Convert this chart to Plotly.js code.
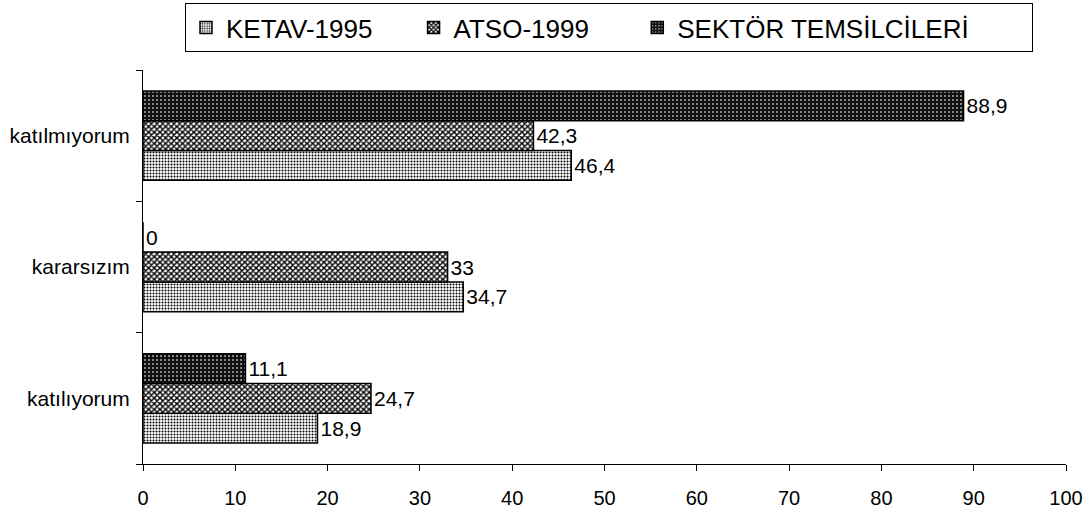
<!DOCTYPE html>
<html>
<head>
<meta charset="utf-8">
<script src="https://cdn.plot.ly/plotly-3.0.1.min.js"></script>
<style>html,body{margin:0;padding:0;background:#fff;}#chart{width:1087px;height:531px;}</style>
</head>
<body>
<div id="chart"></div>
<script>
const categories = ['katılıyorum', 'kararsızım', 'katılmıyorum'];
const seriesNames = ['KETAV-1995', 'ATSO-1999', 'SEKTÖR TEMSİLCİLERİ'];
const ketav = [18.9, 34.7, 46.4];
const atso = [24.7, 33, 42.3];
const sektor = [11.1, 0, 88.9];
const tickVals = [0, 10, 20, 30, 40, 50, 60, 70, 80, 90, 100];

const NB = '\u00a0';
const legendPad = [5, 6, 8];
const patterns = [
  {shape: '.', fgcolor: '#000', bgcolor: '#fff', solidity: 0.35, size: 3},
  {shape: 'x', fgcolor: '#000', bgcolor: '#fff', solidity: 0.6, size: 4},
  {shape: '.', fgcolor: '#aaa', bgcolor: '#111', solidity: 0.2, size: 4}
];
const values = [ketav, atso, sektor];
const traces = values.map((v, i) => ({
  type: 'bar',
  orientation: 'h',
  name: seriesNames[i] + NB.repeat(legendPad[i]),
  y: categories,
  x: v,
  text: v.map(n => String(n).replace('.', ',')),
  textposition: 'outside',
  textfont: {family: 'Liberation Sans, Arial, sans-serif', size: 21, color: '#000'},
  cliponaxis: false,
  marker: {
    color: '#fff',
    line: {color: '#000', width: 1.5},
    pattern: patterns[i]
  }
}));

const layout = {
  width: 1087, height: 531,
  margin: {l: 143, r: 21, t: 70, b: 67, autoexpand: false},
  paper_bgcolor: '#fff', plot_bgcolor: '#fff',
  barmode: 'group',
  bargap: 0.32,
  bargroupgap: 0,
  showlegend: true,
  font: {family: 'Liberation Sans, Arial, sans-serif', color: '#000'},
  legend: {
    orientation: 'h', traceorder: 'normal',
    x: 0.0455, xanchor: 'left', y: 1.17, yanchor: 'top',
    bordercolor: '#000', borderwidth: 1, bgcolor: '#fff',
    font: {size: 26, color: '#000'},
    itemwidth: 30
  },
  xaxis: {
    range: [0, 100], tickvals: tickVals, ticktext: tickVals.map(String),
    showgrid: false, zeroline: false, showline: true, linecolor: '#000', linewidth: 1,
    ticks: 'outside', ticklen: 6, tickcolor: '#000',
    tickfont: {size: 20}, ticklabelstandoff: 10
  },
  yaxis: {
    type: 'category', categoryorder: 'array', categoryarray: categories,
    showgrid: false, zeroline: false, showline: true, linecolor: '#000', linewidth: 1,
    ticks: 'outside', tickson: 'boundaries', ticklen: 6, tickcolor: '#000',
    tickfont: {size: 21}, ticklabelstandoff: 8
  }
};

Plotly.newPlot('chart', traces, layout, {displayModeBar: false});
</script>
</body>
</html>
